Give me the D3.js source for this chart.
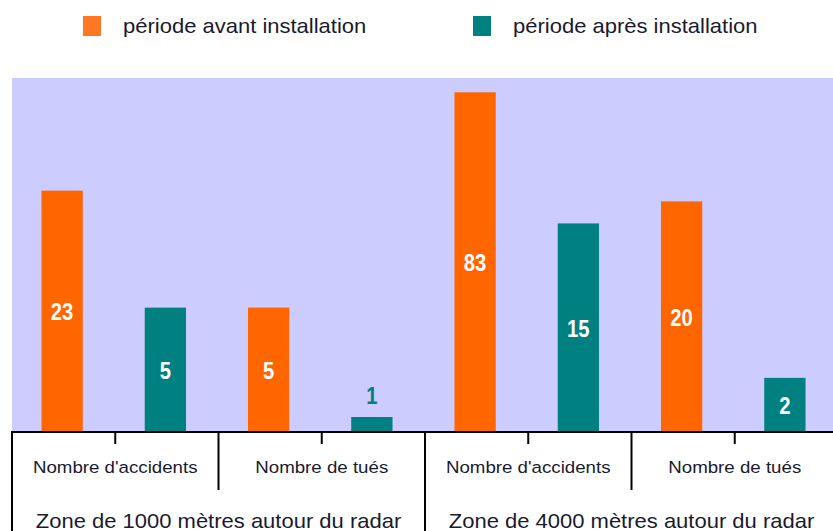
<!DOCTYPE html>
<meta charset="utf-8">
<html>
<head>
    <title>radar</title>
    <script src="https://cdn.jsdelivr.net/npm/d3@7"></script>
    <style>
        body { margin: 0; background: white; }
        text { font-family: "Liberation Sans", Arial, sans-serif; }
    </style>
</head>
<body>
    <div id="chart"></div>
    <script>
        // data
        var zones = ["Zone de 1000 mètres autour du radar", "Zone de 4000 mètres autour du radar"];
        var measures = ["Nombre d'accidents", "Nombre de tués"];
        var periods = ["période avant installation", "période après installation"];
        // order: zone1 accidents, zone1 tués, zone2 accidents, zone2 tués
        var avant = [23, 5, 83, 20];
        var apres = [5, 1, 15, 2];
        var yDomain = [1, 100];

        var colors = ["#ff6600", "#008080"];
        var width = 833, height = 531;
        var plotLeft = 12, plotRight = 838, plotTop = 78, baseline = 431;
        var minBarH = 14;
        var stretch = 1.1;

        // one bar per (zone, measure, period)
        var bars = [];
        zones.forEach(function(z, i){
            measures.forEach(function(m, j){
                [avant, apres].forEach(function(series, k){
                    bars.push({key: i + "-" + j + "-" + k, zone: i, measure: j, period: k, value: series[i * 2 + j]});
                });
            });
        });

        var svg = d3.select("#chart").append("svg")
            .attr("width", width)
            .attr("height", height);

        var x = d3.scaleBand()
            .domain(bars.map(function(d){ return d.key; }))
            .range([plotLeft, plotRight])
            .padding(0);
        var step = x.step();
        var barW = step * 0.4;

        var y = d3.scaleLog()
            .domain(yDomain)
            .range([baseline, plotTop]);

        // plot background
        svg.append("rect")
            .attr("x", plotLeft)
            .attr("y", y(yDomain[1]))
            .attr("width", plotRight - plotLeft)
            .attr("height", baseline - y(yDomain[1]))
            .attr("fill", "#ccccff");

        function barTop(d) {
            return Math.min(y(d.value), baseline - minBarH);
        }

        // bars
        svg.selectAll(".bar")
            .data(bars).enter()
            .append("rect")
            .attr("class", "bar")
            .attr("x", function(d){ return x(d.key) + (step - barW) / 2 - 1.5; })
            .attr("y", barTop)
            .attr("width", barW)
            .attr("height", function(d){ return baseline - barTop(d); })
            .attr("fill", function(d){ return colors[d.period]; });

        // value labels (inside the bar, or above it when the bar is too short)
        svg.selectAll(".val")
            .data(bars).enter()
            .append("text")
            .attr("class", "val")
            .attr("transform", function(d){
                var t = barTop(d);
                var ly = (baseline - t < 30) ? t - 13 : (t + baseline) / 2 + 9.5;
                return "translate(" + (x(d.key) + step / 2 - 1.5) + "," + ly + ") scale(0.88,1)";
            })
            .attr("text-anchor", "middle")
            .attr("font-size", "23px")
            .attr("font-weight", "bold")
            .attr("fill", function(d){
                return (baseline - barTop(d) < 30) ? colors[d.period] : "white";
            })
            .text(function(d){ return d.value; });

        // axis line
        svg.append("line")
            .attr("x1", plotLeft).attr("x2", plotRight)
            .attr("y1", baseline + 1).attr("y2", baseline + 1)
            .attr("stroke", "black").attr("stroke-width", 2);

        // separators: short between bars, medium between measures, full between zones
        var bounds = bars.map(function(d, i){ return i; }).concat([bars.length]);
        svg.selectAll(".sep")
            .data(bounds).enter()
            .append("line")
            .attr("class", "sep")
            .attr("x1", function(b){ return plotLeft + b * step; })
            .attr("x2", function(b){ return plotLeft + b * step; })
            .attr("y1", baseline)
            .attr("y2", function(b){
                if (b % 4 == 0) return height;
                if (b % 2 == 0) return 490;
                return 444;
            })
            .attr("stroke", "black").attr("stroke-width", 2);

        // measure labels
        var measureCells = [];
        zones.forEach(function(z, i){
            measures.forEach(function(m, j){
                measureCells.push({label: m, start: x(i + "-" + j + "-0"), end: x(i + "-" + j + "-1") + step});
            });
        });
        svg.selectAll(".mlab")
            .data(measureCells).enter()
            .append("text")
            .attr("class", "mlab")
            .attr("transform", function(d){ return "translate(" + ((d.start + d.end) / 2) + ",473) scale(" + stretch + ",1)"; })
            .attr("text-anchor", "middle")
            .attr("font-size", "17px")
            .attr("fill", "#1a1a2e")
            .text(function(d){ return d.label; });

        // zone labels
        svg.selectAll(".zlab")
            .data(zones).enter()
            .append("text")
            .attr("class", "zlab")
            .attr("transform", function(d, i){
                var s = x(i + "-0-0"), e = x(i + "-1-1") + step;
                return "translate(" + ((s + e) / 2) + ",528) scale(" + stretch + ",1)";
            })
            .attr("text-anchor", "middle")
            .attr("font-size", "20px")
            .attr("fill", "#1a1a2e")
            .text(function(d){ return d; });

        // legend
        var legendX = [83, 473];
        var legend = svg.selectAll(".legend")
            .data(periods).enter()
            .append("g")
            .attr("class", "legend")
            .attr("transform", function(d, i){ return "translate(" + legendX[i] + ",0)"; });
        legend.append("rect")
            .attr("x", 0).attr("y", 16)
            .attr("width", 18).attr("height", 20)
            .attr("fill", function(d, i){ return i == 0 ? "#ff7722" : colors[i]; });
        legend.append("text")
            .attr("transform", "translate(40,33) scale(" + stretch + ",1)")
            .attr("font-size", "20px")
            .attr("fill", "#1a1a2e")
            .text(function(d){ return d; });
    </script>
</body>
</html>
